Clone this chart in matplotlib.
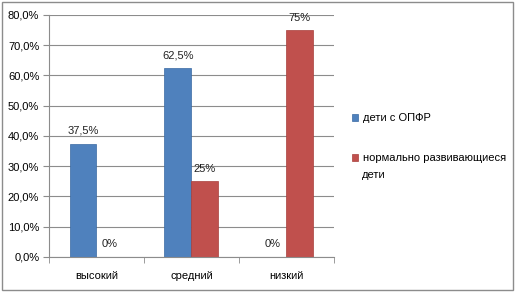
import numpy as np
import matplotlib.pyplot as plt
from matplotlib.patches import Rectangle

plt.rcParams['font.family'] = ['Liberation Sans', 'DejaVu Sans']

categories = ['высокий', 'средний', 'низкий']
series_names = ['дети с ОПФР', 'нормально развивающиеся', 'дети']
opfr = [37.5, 62.5, 0.0]
normal = [0.0, 25.0, 75.0]
opfr_labels = ['37,5%', '62,5%', '0%']
normal_labels = ['0%', '25%', '75%']
yticks = [0, 10, 20, 30, 40, 50, 60, 70, 80]

blue = '#4F81BD'
red = '#C0504D'
fs = 8

fig = plt.figure(figsize=(5.17, 2.94), dpi=100)
fig.patches.append(Rectangle((0.004, 0.013), 0.988, 0.98, transform=fig.transFigure,
                             fill=False, edgecolor='#8c8c8c', linewidth=1))
ax = fig.add_axes([0.0948, 0.126, 0.551, 0.823])

x = np.arange(len(categories))
w = 0.284
b1 = ax.bar(x - w / 2, opfr, w, color=blue, edgecolor='#3a6aa3', linewidth=0.5)
b2 = ax.bar(x + w / 2, normal, w, color=red, edgecolor='#a83f3c', linewidth=0.5)

for i in range(len(categories)):
    ax.text(x[i] - w / 2, opfr[i] + 2.5, opfr_labels[i], ha='center', va='bottom', fontsize=fs, color='#222222')
    ax.text(x[i] + w / 2, normal[i] + 2.5, normal_labels[i], ha='center', va='bottom', fontsize=fs, color='#222222')

ax.set_xlim(-0.5, 2.5)
ax.set_ylim(0, 80)
ax.set_yticks(yticks)
ax.set_yticklabels(['%d,0%%' % v for v in yticks], fontsize=fs)
ax.yaxis.grid(True, color='#8c8c8c', linewidth=0.8)
ax.set_axisbelow(True)

ax.set_xticks(x)
ax.set_xticklabels(categories, fontsize=fs)
ax.set_xticks([-0.5, 0.5, 1.5, 2.5], minor=True)
ax.tick_params(axis='x', which='major', length=0, pad=10)
ax.tick_params(axis='x', which='minor', length=4, color='#8c8c8c')
ax.tick_params(axis='y', length=4, color='#8c8c8c', pad=3)

for s in ['top', 'right']:
    ax.spines[s].set_visible(False)
ax.spines['left'].set_color('#8c8c8c')
ax.spines['bottom'].set_color('#8c8c8c')

fig.legend(handles=[b1, b2], labels=series_names[:2], loc='upper left',
           bbox_to_anchor=(0.681, 0.614), frameon=False, fontsize=fs,
           borderpad=0, borderaxespad=0,
           handlelength=0.55, handleheight=0.55, handletextpad=0.4, labelspacing=2.7)
fig.text(362 / 517, 1 - 175 / 294, series_names[2], fontsize=fs, va='center', ha='left')

fig.savefig('out.png', dpi=100)
